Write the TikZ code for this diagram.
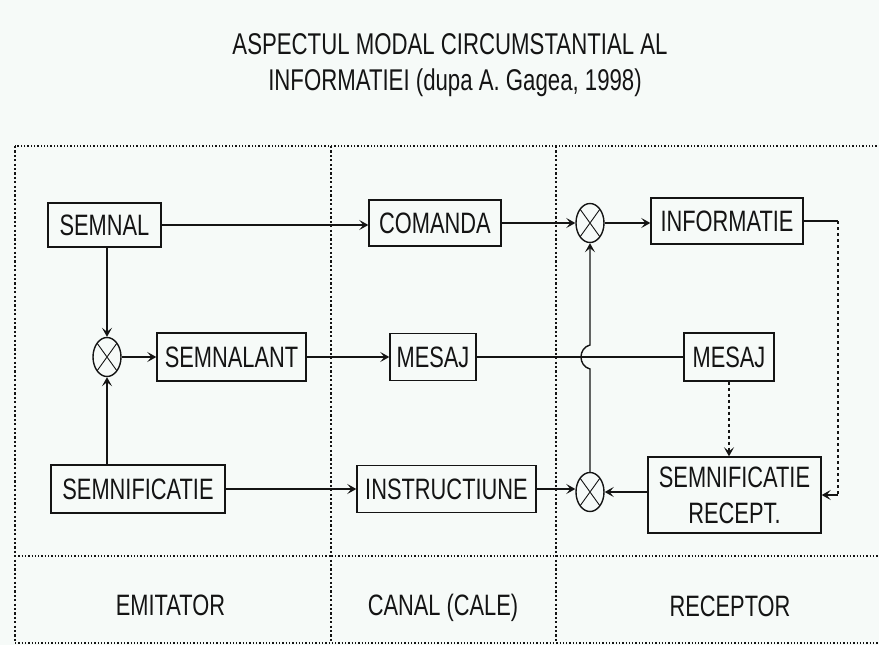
\documentclass[tikz,border=0pt]{standalone}
\usepackage{fontspec}
\setmainfont{Liberation Sans}[FakeStretch=0.74]
\usetikzlibrary{arrows.meta,shapes.geometric}
\definecolor{paper}{RGB}{246,250,248}
\definecolor{ink}{RGB}{20,20,20}
\begin{document}
\begin{tikzpicture}[x=1pt,y=-1pt,
  every node/.style={font=\fontsize{29.5}{36}\selectfont, text=ink},
  blk/.style={draw=ink, line width=1.4pt, inner sep=0pt, text height=21pt, text depth=0pt},
  xop/.style={draw=ink, ellipse, line width=1.4pt, minimum width=28pt, minimum height=39pt, inner sep=0pt,
    path picture={\draw[line width=0.9pt, ink]
      (path picture bounding box.north west) -- (path picture bounding box.south east)
      (path picture bounding box.north east) -- (path picture bounding box.south west);}},
  wire/.style={draw=ink, line width=1.4pt},
  tip/.style={-{Stealth[length=9pt,width=10pt,inset=4pt]}},
  arr/.style={wire, tip},
  dwire/.style={wire, dash pattern=on 3pt off 3pt},
  hframe/.style={draw=ink, line width=1.2pt, dash pattern=on 1.3pt off 2pt},
  vframe/.style={draw=ink, line width=1.2pt, dash pattern=on 2.2pt off 2.2pt},
  lbl/.style={inner sep=0pt, text height=21pt, text depth=0pt},
]
% page
\fill[paper] (0,0) rectangle (879,645);
\useasboundingbox (0,0) rectangle (879,645);

% title
\node[anchor=base, font=\fontsize{30}{36}\selectfont] (t1) at (450,54) {ASPECTUL MODAL CIRCUMSTANTIAL AL};
\node[anchor=base, font=\fontsize{30}{36}\selectfont] (t2) at (455,90) {INFORMATIEI (dupa A. Gagea, 1998)};

% dotted frame with three columns and a footer row
\draw[hframe] (880,146) -- (15,146);
\draw[hframe] (15,643) -- (880,643);
\draw[hframe] (15,556) -- (880,556);
\draw[vframe] (15,146) -- (15,643);
\draw[vframe] (331,146) -- (331,643);
\draw[vframe] (556,146) -- (556,643);

% footer labels
\node[lbl] (emit) at (170.5,605) {EMITATOR};
\node[lbl] (canal) at (443,605) {CANAL (CALE)};
\node[lbl] (recep) at (730,606) {RECEPTOR};

% blocks
\node[blk, minimum width=113pt, minimum height=44pt] (semnal) at (104.5,225) {SEMNAL};
\node[blk, minimum width=132pt, minimum height=46pt] (comanda) at (435,223) {COMANDA};
\node[xop] (c1) at (590,223) {};
\node[blk, minimum width=152pt, minimum height=46pt] (informatie) at (727,221) {INFORMATIE};

\node[xop] (c2) at (107,357) {};
\node[blk, minimum width=149pt, minimum height=48pt] (semnalant) at (231.5,357) {SEMNALANT};
\node[blk, minimum width=86pt, minimum height=47pt] (mesaj1) at (433,357) {MESAJ};
\node[blk, minimum width=90pt, minimum height=48pt] (mesaj2) at (729,357) {MESAJ};

\node[blk, minimum width=174pt, minimum height=48pt] (semnif) at (138,489) {SEMNIFICATIE};
\node[blk, minimum width=179pt, minimum height=47pt] (instr) at (446.5,489) {INSTRUCTIUNE};
\node[xop] (c3) at (590,492) {};
\node[draw=ink, line width=1.4pt, inner sep=0pt, minimum width=173pt, minimum height=76pt, align=center]
  (semrec) at (734.5,495) {SEMNIFICATIE\\RECEPT.};

% top row
\draw[arr] (semnal.east) -- (semnal.east -| comanda.west);
\draw[arr] (comanda.east) -- (c1.west);
\draw[arr] (c1.east) -- (c1.east -| informatie.west);

% emitter combination
\draw[arr] (c2 |- semnal.south) -- (c2.north);
\draw[arr] (c2 |- semnif.north) -- (c2.south);
\draw[arr] (c2.east) -- (semnalant.west);
\draw[arr] (semnalant.east) -- (mesaj1.west);
\draw[wire] (mesaj1.east) -- (mesaj2.west);

% bottom row
\draw[arr] (semnif.east) -- (instr.west);
\draw[arr] (instr.east) -- (instr.east -| c3.west);
\draw[arr] (c3 -| semrec.west) -- (c3.east);

% receiver side: vertical link hopping over the message line
\coordinate (hopB) at (590,369);
\coordinate (hopT) at (590,345);
\draw[arr] (c3.north) -- (hopB) .. controls (578,366) and (578,348) .. (hopT) -- (c1.south);

% dashed links on the receiver side
\draw[dwire, tip] (mesaj2.south) -- (mesaj2.south |- semrec.north);
\coordinate (fbT) at (838,221);
\coordinate (fbB) at (838,495);
\draw[wire] (informatie.east) -- (fbT);
\draw[dwire] (fbT) -- (fbB);
\draw[arr] (fbB) -- (semrec.east);
\end{tikzpicture}
\end{document}
